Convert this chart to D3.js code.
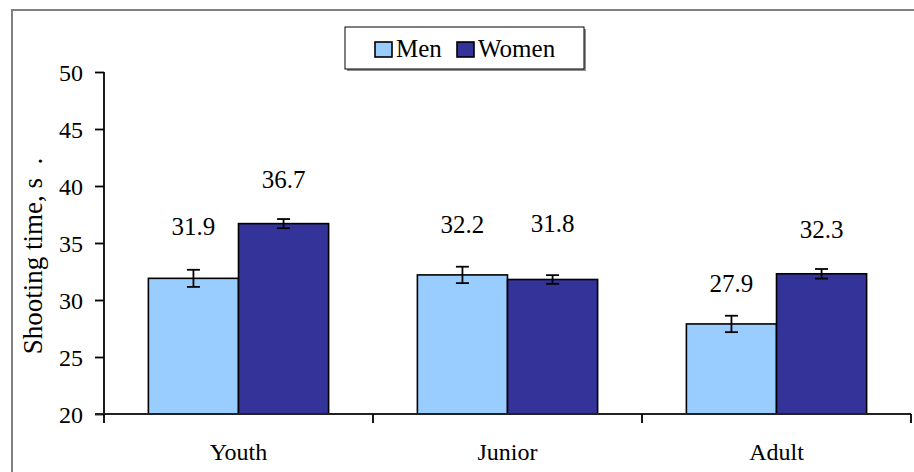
<!DOCTYPE html>
<html>
<head>
<meta charset="utf-8">
<script src="https://cdn.jsdelivr.net/npm/d3@7"></script>
<style>
  body { margin: 0; background: #fff; }
  svg text { font-family: "Liberation Serif", "Times New Roman", serif; }
</style>
</head>
<body>
<script>
// data
var categories = ["Youth", "Junior", "Adult"];
var series = ["Men", "Women"];
var menTime = [31.9, 32.2, 27.9];
var womenTime = [36.7, 31.8, 32.3];
var menErr = [0.75, 0.72, 0.72];
var womenErr = [0.4, 0.38, 0.42];
var yTicks = [20, 25, 30, 35, 40, 45, 50];

// value labels sit at odd heights above the bars (pixels above bar top)
var menLabelLift = [43, 42, 32];
var womenLabelLift = [36, 47, 36];

var W = 914, H = 472;
var FONT = "Liberation Serif, Times New Roman, serif";
var colors = { Men: "#99ccff", Women: "#333399" };

var svg = d3.select("body").append("svg").attr("width", W).attr("height", H)
  .style("display", "block").attr("font-family", FONT);

// outer chart frame (right and bottom edges fall off the picture)
svg.append("rect")
  .attr("x", 12).attr("y", 10).attr("width", 1000).attr("height", 1000)
  .attr("fill", "none").attr("stroke", "#808080").attr("stroke-width", 2);

var y = d3.scaleLinear().domain([20, 50]).range([414, 72]);
var x = d3.scaleBand().domain(categories).range([104, 911])
  .paddingInner(0.33).paddingOuter(0.165);
var xs = d3.scaleBand().domain(series).range([0, x.bandwidth()]);

var rows = categories.map(function(c, i){
  return [
    { cat: c, key: "Men", v: menTime[i], e: menErr[i], lift: menLabelLift[i] },
    { cat: c, key: "Women", v: womenTime[i], e: womenErr[i], lift: womenLabelLift[i] }
  ];
});
var flat = d3.merge(rows);

/***********************************************************************************/
// Bars

svg.append("g").selectAll("rect").data(flat).join("rect")
  .attr("x", function(d){ return x(d.cat) + xs(d.key); })
  .attr("y", function(d){ return y(d.v); })
  .attr("width", xs.bandwidth())
  .attr("height", function(d){ return y(20) - y(d.v); })
  .attr("fill", function(d){ return colors[d.key]; })
  .attr("stroke", "#000").attr("stroke-width", 1.6);

/***********************************************************************************/
// Error bars

var eb = svg.append("g").attr("stroke", "#000").attr("stroke-width", 1.8);
flat.forEach(function(d){
  var cx = x(d.cat) + xs(d.key) + xs.bandwidth() / 2;
  eb.append("line").attr("x1", cx).attr("x2", cx).attr("y1", y(d.v + d.e)).attr("y2", y(d.v - d.e));
  [d.v + d.e, d.v - d.e].forEach(function(v){
    eb.append("line").attr("x1", cx - 6.5).attr("x2", cx + 6.5).attr("y1", y(v)).attr("y2", y(v));
  });
});

/***********************************************************************************/
// Value labels

svg.append("g").selectAll("text").data(flat).join("text")
  .attr("x", function(d){ return x(d.cat) + xs(d.key) + xs.bandwidth() / 2; })
  .attr("y", function(d){ return y(d.v) - d.lift; })
  .attr("text-anchor", "middle")
  .attr("font-size", 25)
  .attr("fill", "#000")
  .text(function(d){ return d3.format(".1f")(d.v); });

/***********************************************************************************/
// Axes

var yAxis = svg.append("g").attr("transform", "translate(104,0)")
  .call(d3.axisLeft(y).tickValues(yTicks).tickSize(9).tickPadding(12).tickFormat(d3.format("d")));
yAxis.attr("font-family", FONT).attr("font-size", 24);
yAxis.selectAll("text").attr("fill", "#000").attr("dy", "0.34em");
yAxis.selectAll("line, path").attr("stroke", "#000").attr("stroke-width", 1.8);
yAxis.select(".domain").attr("d", "M0," + y(50) + "V" + y(20));

var xg = svg.append("g").attr("transform", "translate(0," + y(20) + ")");
xg.append("line").attr("x1", 95).attr("x2", 911).attr("y1", 0).attr("y2", 0)
  .attr("stroke", "#222").attr("stroke-width", 1.8);
var edges = d3.range(categories.length + 1).map(function(i){ return 104 + i * x.step(); });
xg.selectAll("line.tk").data(edges).join("line").attr("class", "tk")
  .attr("x1", function(d){ return d; }).attr("x2", function(d){ return d; })
  .attr("y1", 0).attr("y2", 9).attr("stroke", "#000").attr("stroke-width", 1.8);
xg.selectAll("text").data(categories).join("text")
  .attr("x", function(d){ return x(d) + x.bandwidth() / 2; })
  .attr("y", 46)
  .attr("text-anchor", "middle").attr("font-size", 24)
  .text(function(d){ return d; });

// y axis title
svg.append("text")
  .attr("transform", "translate(42,256) rotate(-90)")
  .attr("text-anchor", "middle")
  .attr("font-size", 27)
  .style("white-space", "pre")
  .text("Shooting time, s  .");

/***********************************************************************************/
// Legend

var lg = svg.append("g");
lg.append("rect").attr("x", 347).attr("y", 29).attr("width", 239).attr("height", 42).attr("fill", "#909090");
lg.append("rect").attr("x", 345).attr("y", 27).attr("width", 239).attr("height", 42)
  .attr("fill", "#fff").attr("stroke", "#000").attr("stroke-width", 1);
var legendX = [375, 457];
series.forEach(function(s, i){
  lg.append("rect").attr("x", legendX[i]).attr("y", 42).attr("width", 17).attr("height", 15)
    .attr("fill", colors[s]).attr("stroke", "#000").attr("stroke-width", 1.6);
  lg.append("text").attr("x", legendX[i] + 21).attr("y", 57).attr("font-size", 25).text(s);
});
</script>
</body>
</html>
